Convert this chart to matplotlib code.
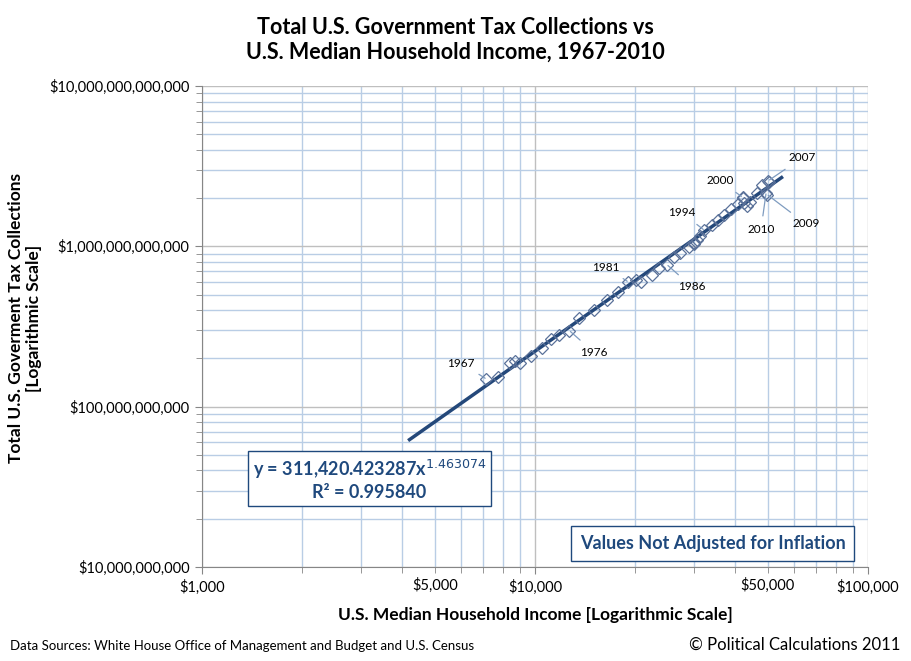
import numpy as np
import matplotlib
matplotlib.use("Agg")
import matplotlib.pyplot as plt
from matplotlib.ticker import LogLocator, FuncFormatter, NullFormatter

plt.rcParams['font.family'] = ['Lato', 'DejaVu Sans']

# data: year, median household income (nominal $), total tax collections (nominal $)
years = list(range(1967, 2011))
income = [7143, 7743, 8389, 8734, 9028, 9697, 10512, 11197, 11800, 12686,
          13572, 15064, 16461, 17710, 19074, 20171, 20885, 22415, 23618, 24897,
          26061, 27225, 28906, 29943, 30126, 30636, 31241, 32264, 34076, 35492,
          37005, 38885, 40696, 41990, 42228, 42409, 43318, 44334, 46326, 48201,
          50233, 50303, 49777, 49445]
receipts_bn = [148.8, 153.0, 186.9, 192.8, 187.1, 207.3, 230.8, 263.2, 279.1, 298.1,
               355.6, 399.6, 463.3, 517.1, 599.3, 617.8, 600.6, 666.4, 734.0, 769.2,
               854.3, 909.2, 991.1, 1032.0, 1055.0, 1091.2, 1154.3, 1258.6, 1351.8, 1453.1,
               1579.2, 1721.7, 1827.5, 2025.2, 1991.1, 1853.1, 1782.3, 1880.1, 2153.6, 2406.9,
               2568.0, 2524.0, 2105.0, 2162.7]
receipts = [v * 1e9 for v in receipts_bn]

# power trendline reported on the chart
fit_a = 311420.423287
fit_b = 1.463074
fit_x = [4200, 55000]

# labelled years: (year, label x, label y) in data coords
labels = {
    1967: (6000, 1.87e11),
    1976: (15000, 2.19e11),
    1981: (16300, 7.4e11),
    1986: (29600, 5.6e11),
    1994: (27600, 1.62e12),
    2000: (35900, 2.56e12),
    2007: (63300, 3.56e12),
    2010: (47700, 1.27e12),
    2009: (65100, 1.38e12),
}

fig = plt.figure(figsize=(9.11, 6.61), dpi=100)
ax = fig.add_axes([0.2217, 0.1422, 0.7311, 0.7277])
ax.set_xscale('log')
ax.set_yscale('log')
ax.set_xlim(1e3, 1e5)
ax.set_ylim(1e10, 1e13)

ax.xaxis.set_major_locator(LogLocator(base=10, numticks=10))
ax.xaxis.set_minor_locator(LogLocator(base=10, subs=np.arange(2, 10), numticks=20))
ax.yaxis.set_major_locator(LogLocator(base=10, numticks=10))
ax.yaxis.set_minor_locator(LogLocator(base=10, subs=np.arange(2, 10), numticks=20))

money = FuncFormatter(lambda v, p: "${:,.0f}".format(v))
ax.xaxis.set_major_formatter(money)
ax.yaxis.set_major_formatter(money)


def fives(v, p):
    m = v / 10 ** np.floor(np.log10(v) + 1e-9)
    return "${:,.0f}".format(v) if abs(m - 5) < 1e-6 else ""


ax.xaxis.set_minor_formatter(FuncFormatter(fives))
ax.yaxis.set_minor_formatter(NullFormatter())

ax.grid(which='minor', color='#B9CDE5', linewidth=1.0)
ax.grid(which='major', color='#BFBFBF', linewidth=1.0)
ax.set_axisbelow(True)
for s in ['top', 'right']:
    ax.spines[s].set_visible(False)
for s in ['left', 'bottom']:
    ax.spines[s].set_color('#868686')
ax.tick_params(which='both', direction='out', color='#868686', length=5,
               labelsize=10.5, pad=4)
ax.tick_params(which='minor', length=4)

tx = np.array(fit_x, dtype=float)
ax.plot(tx, fit_a * tx ** fit_b, color='#24487A', linewidth=2.5, zorder=3)
ax.plot(income, receipts, linestyle='none', marker='D', markersize=6,
        markerfacecolor='none', markeredgecolor='#5A7199', markeredgewidth=0.9,
        zorder=4)

for yr, (lx, ly) in labels.items():
    i = years.index(yr)
    ax.annotate(str(yr), xy=(income[i], receipts[i]), xytext=(lx, ly),
                fontsize=8.5, ha='center', va='center', zorder=5,
                arrowprops=dict(arrowstyle='-', color='#7F9CC0', lw=0.9,
                                shrinkA=4, shrinkB=1))

ax.text(0.2515, 0.182, "y = 311,420.423287x$^{1.463074}$\nR² = 0.995840",
        transform=ax.transAxes, ha='center', va='center', fontsize=13,
        fontweight='bold', color='#1F497D', linespacing=1.25,
        bbox=dict(boxstyle='square,pad=0.25', facecolor='white',
                  edgecolor='#1F497D', linewidth=1))
ax.text(0.7665, 0.049, "Values Not Adjusted for Inflation", transform=ax.transAxes,
        ha='center', va='center', fontsize=13, fontweight='bold', color='#1F497D',
        bbox=dict(boxstyle='square,pad=0.5', facecolor='white',
                  edgecolor='#1F497D', linewidth=1))

ax.set_xlabel("U.S. Median Household Income [Logarithmic Scale]", fontsize=12.5,
              fontweight='bold', labelpad=9)
fig.text(25 / 911, 1 - 318 / 661, "Total U.S. Goverment Tax Collections\n[Logarithmic Scale]",
         rotation=90, ha='center', va='center', fontsize=12.5, fontweight='bold',
         linespacing=1.15)

fig.text(0.5, 0.940, "Total U.S. Government Tax Collections vs\nU.S. Median Household Income, 1967-2010",
         ha='center', va='center', fontsize=15.5, fontweight='bold', linespacing=1.25)
fig.text(0.011, 0.023, "Data Sources: White House Office of Management and Budget and U.S. Census",
         ha='left', va='center', fontsize=9.5)
fig.text(0.988, 0.024, "© Political Calculations 2011", ha='right', va='center',
         fontsize=12)

fig.savefig("out.png", dpi=100)
